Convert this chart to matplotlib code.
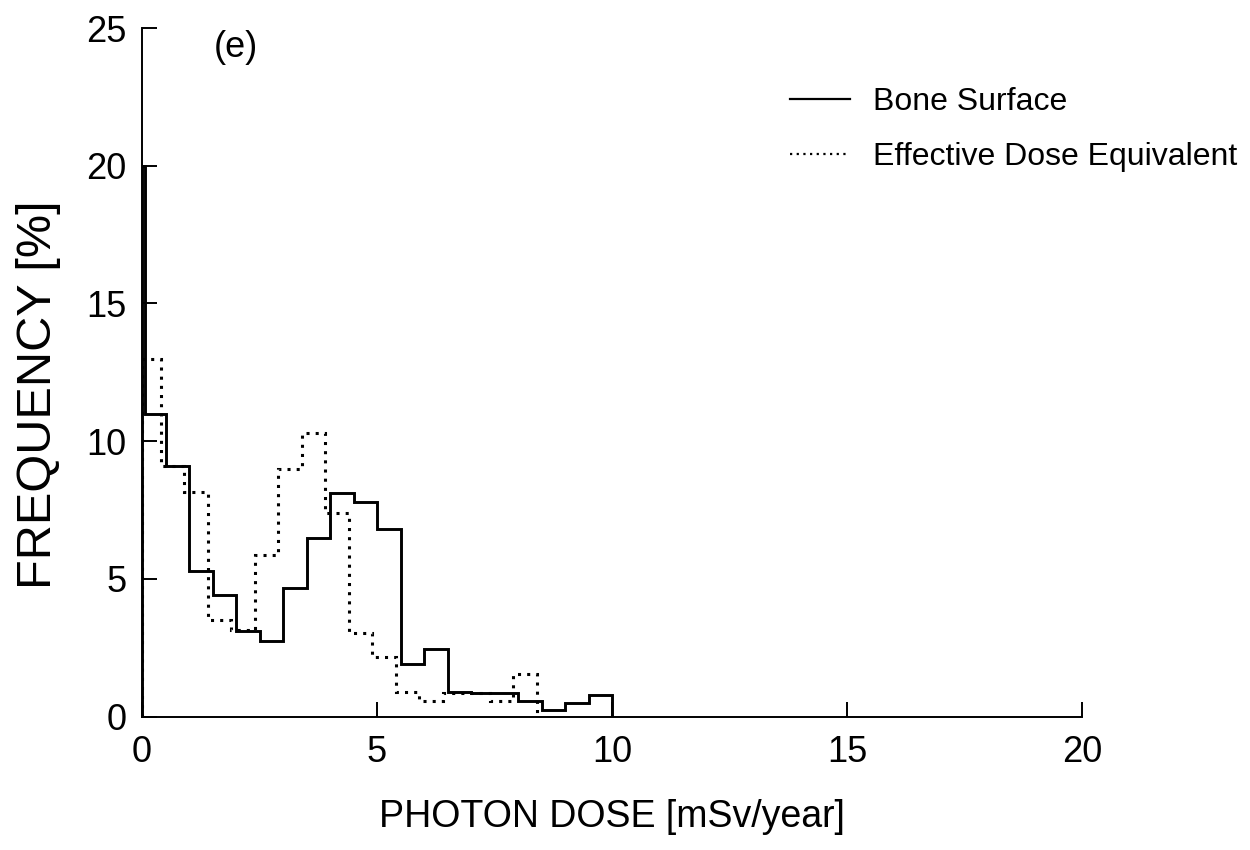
import matplotlib
matplotlib.use("Agg")
import matplotlib.pyplot as plt

plt.rcParams['font.family'] = ['Liberation Sans', 'DejaVu Sans']

# bone surface histogram (bin edges in mSv/year, frequency in %)
bone_edges = [0, 0.07, 0.5, 1.0, 1.5, 2.0, 2.5, 3.0, 3.5, 4.0, 4.5, 5.0, 5.5,
              6.0, 6.5, 7.0, 7.5, 8.0, 8.5, 9.0, 9.5, 10.0]
bone_freq = [20.0, 11.0, 9.1, 5.3, 4.4, 3.1, 2.75, 4.65, 6.5, 8.1, 7.8, 6.8,
             1.9, 2.45, 0.88, 0.85, 0.85, 0.55, 0.23, 0.5, 0.8]

# effective dose equivalent histogram
ede_edges = [0, 0.4, 0.9, 1.4, 1.9, 2.4, 2.9, 3.4, 3.9, 4.4, 4.9, 5.4, 5.9,
             6.4, 6.9, 7.4, 7.9, 8.4]
ede_freq = [13.0, 9.1, 8.15, 3.5, 3.15, 5.85, 9.0, 10.3, 7.4, 3.05, 2.15,
            0.88, 0.57, 0.85, 0.85, 0.55, 1.55]

x_ticks = [0, 5, 10, 15, 20]
y_ticks = [0, 5, 10, 15, 20, 25]

fig = plt.figure(figsize=(12.5, 8.5), dpi=100)
ax = fig.add_axes([0.1136, 0.157, 0.752, 0.81])

ax.stairs(bone_freq, bone_edges, color='black', lw=2.1, label='Bone Surface')
ax.stairs(ede_freq, ede_edges, color='black', lw=2.2, linestyle=(0, (1, 2)),
          label='Effective Dose Equivalent')

ax.set_xlim(0, 20)
ax.set_ylim(0, 25)
ax.set_xticks(x_ticks)
ax.set_yticks(y_ticks)
ax.tick_params(direction='in', length=11, width=1.4, labelsize=26)
ax.tick_params(axis='x', pad=13)
ax.tick_params(axis='y', pad=11)
for s in ['top', 'right']:
    ax.spines[s].set_visible(False)
for s in ['left', 'bottom']:
    ax.spines[s].set_linewidth(1.4)

ax.set_xlabel('PHOTON DOSE [mSv/year]', fontsize=27, labelpad=21)
ax.set_ylabel('FREQUENCY [%]', fontsize=35, labelpad=18)
ax.yaxis.label.set_y(0.467)

ax.text(2.0, 24.3, '(e)', fontsize=26, ha='center', va='center')

leg = ax.legend(loc='upper left', bbox_to_anchor=(790 / 1250, 1 - 87 / 850),
                bbox_transform=fig.transFigure, frameon=False, fontsize=23,
                handlelength=1.88, handletextpad=0.72, labelspacing=0.78,
                borderpad=0, borderaxespad=0)
for h in leg.get_lines():
    h.set_linewidth(1.6)

fig.savefig('out.png', dpi=100)
